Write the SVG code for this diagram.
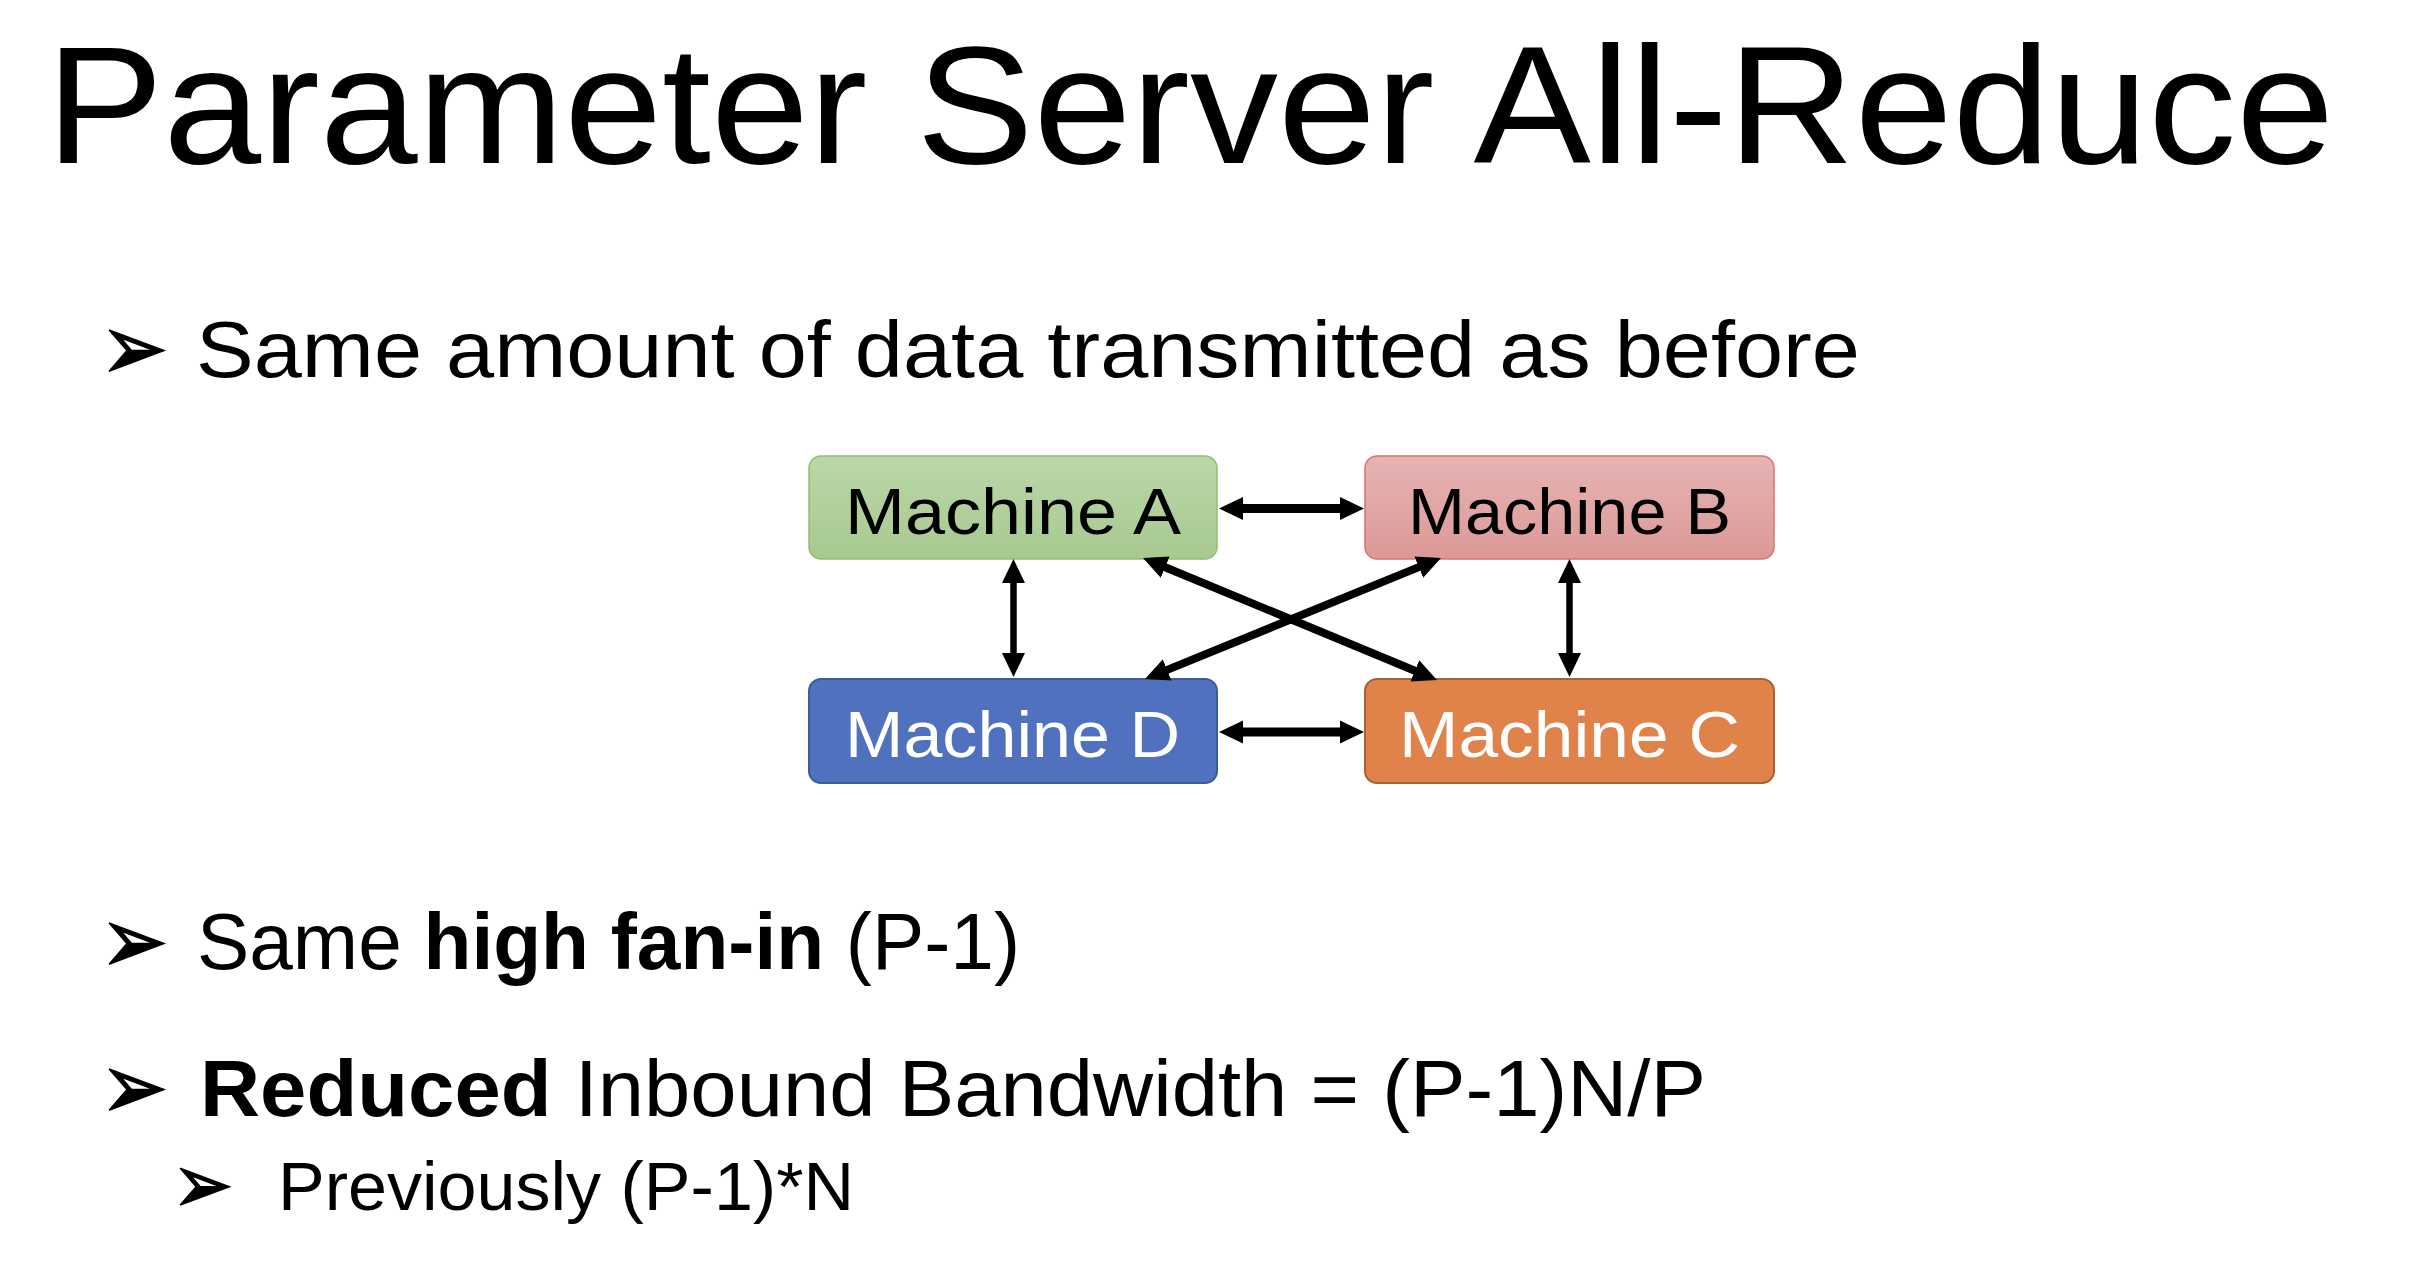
<svg xmlns="http://www.w3.org/2000/svg" width="2410" height="1266" viewBox="0 0 2410 1266">
  <style>
    .title { font-family: "Liberation Sans", Arial, sans-serif; font-size: 167px; fill: #000; }
    .body { font-family: "Liberation Sans", Arial, sans-serif; font-size: 80px; fill: #000; }
    .sub { font-family: "Liberation Sans", Arial, sans-serif; font-size: 68px; fill: #000; }
    .bullet { font-family: "DejaVu Sans", sans-serif; fill: #000; stroke: #000; stroke-width: 1.5px; }
    .label { font-family: "Liberation Sans", Arial, sans-serif; font-size: 64px; text-anchor: middle; }
    .dark { fill: #000; }
    .light { fill: #fff; }
    .link { stroke: #000; fill: none; marker-start: url(#head); marker-end: url(#head); }
    .b { font-weight: bold; }
  </style>
  <defs>
    <linearGradient id="gA" x1="0" y1="0" x2="0" y2="1">
      <stop offset="0" stop-color="#bbd7a9"/>
      <stop offset="1" stop-color="#a8c990"/>
    </linearGradient>
    <linearGradient id="gB" x1="0" y1="0" x2="0" y2="1">
      <stop offset="0" stop-color="#e6b4b3"/>
      <stop offset="1" stop-color="#db9997"/>
    </linearGradient>
    <marker id="head" viewBox="0 -12 24 24" markerUnits="userSpaceOnUse" markerWidth="24" markerHeight="24" refX="4" refY="0" orient="auto-start-reverse">
      <path d="M0,-11.5 L24,0 L0,11.5 Z" fill="#000"/>
    </marker>
  </defs>

  <!-- heading -->
  <text class="title" x="46" y="163" textLength="2288" lengthAdjust="spacingAndGlyphs">Parameter Server All-Reduce</text>

  <!-- bullet list -->
  <g id="bullet-1">
    <text class="bullet" x="100" y="380" font-size="94" textLength="68" lengthAdjust="spacingAndGlyphs">➢</text>
    <text class="body" x="196" y="377" textLength="1664" lengthAdjust="spacingAndGlyphs">Same amount of data transmitted as before</text>
  </g>
  <g id="bullet-2">
    <text class="bullet" x="100" y="973" font-size="94" textLength="68" lengthAdjust="spacingAndGlyphs">➢</text>
    <text class="body" x="197" y="969" textLength="823" lengthAdjust="spacingAndGlyphs">Same <tspan class="b">high fan-in</tspan> (P-1)</text>
  </g>
  <g id="bullet-3">
    <text class="bullet" x="100" y="1119" font-size="94" textLength="68" lengthAdjust="spacingAndGlyphs">➢</text>
    <text class="body" x="200" y="1116" textLength="1506" lengthAdjust="spacingAndGlyphs"><tspan class="b">Reduced</tspan> Inbound Bandwidth = (P-1)N/P</text>
  </g>
  <g id="bullet-3-1">
    <text class="bullet" x="172" y="1213" font-size="84" textLength="61" lengthAdjust="spacingAndGlyphs">➢</text>
    <text class="sub" x="278" y="1210" textLength="576" lengthAdjust="spacingAndGlyphs">Previously (P-1)*N</text>
  </g>

  <!-- machines -->
  <g id="machine-a">
    <rect x="809" y="456" width="408" height="103" rx="12" fill="url(#gA)" stroke="#8fc070" stroke-width="1.5"/>
    <text class="label dark" x="1013" y="534" textLength="336" lengthAdjust="spacingAndGlyphs">Machine A</text>
  </g>
  <g id="machine-b">
    <rect x="1365" y="456" width="409" height="103" rx="12" fill="url(#gB)" stroke="#d67472" stroke-width="1.5"/>
    <text class="label dark" x="1569.5" y="534" textLength="323" lengthAdjust="spacingAndGlyphs">Machine B</text>
  </g>
  <g id="machine-d">
    <rect x="809" y="679" width="408" height="104" rx="12" fill="#5072be" stroke="#3d5b98" stroke-width="2"/>
    <text class="label light" x="1012.5" y="757" textLength="335" lengthAdjust="spacingAndGlyphs">Machine D</text>
  </g>
  <g id="machine-c">
    <rect x="1365" y="679" width="409" height="104" rx="12" fill="#e0834a" stroke="#a8612f" stroke-width="2"/>
    <text class="label light" x="1569.5" y="757" textLength="341" lengthAdjust="spacingAndGlyphs">Machine C</text>
  </g>

  <!-- links between machines, two-way -->
  <g id="connectors">
    <line class="link" x1="1239" y1="508.5" x2="1344" y2="508.5" stroke-width="9"/>
    <line class="link" x1="1239" y1="732" x2="1344" y2="732" stroke-width="9"/>
    <line class="link" x1="1013.5" y1="579" x2="1013.5" y2="657" stroke-width="6.5"/>
    <line class="link" x1="1569.5" y1="579" x2="1569.5" y2="657" stroke-width="6.5"/>
    <line class="link" x1="1161.5" y1="565.7" x2="1418.5" y2="672.3" stroke-width="8"/>
    <line class="link" x1="1422.5" y1="565.6" x2="1163.5" y2="671.4" stroke-width="8"/>
  </g>
</svg>
